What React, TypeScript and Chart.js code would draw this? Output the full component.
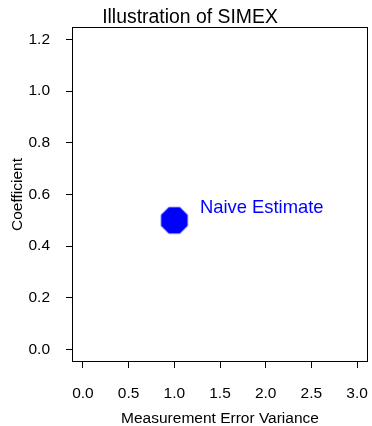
import React, { useEffect, useRef } from 'react';
import { Chart, registerables } from 'chart.js';

Chart.register(...registerables);

const titleText = 'Illustration of SIMEX';
const xAxisTitle = 'Measurement Error Variance';
const yAxisTitle = 'Coefficient';
const xTicks = [0, 0.5, 1, 1.5, 2, 2.5, 3];
const yTicks = [0, 0.2, 0.4, 0.6, 0.8, 1.0, 1.2];
const pointX = [1.0];
const pointY = [0.5];
const noteText = ['Naive Estimate'];
const noteX = [1.28];
const noteY = [0.55];

const FONT = '"Liberation Sans", Arial, Helvetica, sans-serif';

export default function App() {
  const ref = useRef<HTMLCanvasElement>(null);

  useEffect(() => {
    const canvas = ref.current;
    if (!canvas) return;

    const oct = document.createElement('canvas');
    oct.width = 30;
    oct.height = 30;
    const octx = oct.getContext('2d')!;
    octx.fillStyle = '#0000ff';
    octx.beginPath();
    for (let k = 0; k < 8; k++) {
      const a = Math.PI / 8 + (k * Math.PI) / 4;
      const px = 15 + 14.45 * Math.cos(a);
      const py = 15 + 14.45 * Math.sin(a);
      if (k === 0) octx.moveTo(px, py);
      else octx.lineTo(px, py);
    }
    octx.closePath();
    octx.fill();

    const xr = xTicks[xTicks.length - 1] - xTicks[0];
    const yr = yTicks[yTicks.length - 1] - yTicks[0];

    const deco = {
      id: 'deco',
      beforeDatasetsDraw(chart: any) {
        const { ctx, chartArea: a } = chart;
        ctx.save();
        ctx.strokeStyle = '#000';
        ctx.lineWidth = 1;
        const l = Math.round(a.left), t = Math.round(a.top);
        const r = Math.round(a.right), b = Math.round(a.bottom);
        ctx.strokeRect(l + 0.5, t + 0.5, r - l - 1, b - t - 1);
        ctx.restore();
      },
      afterDraw(chart: any) {
        const { ctx, scales } = chart;
        ctx.save();
        ctx.fillStyle = '#000';
        ctx.font = `19.4px ${FONT}`;
        ctx.textAlign = 'center';
        ctx.textBaseline = 'alphabetic';
        ctx.fillText(titleText, 190, 23);
        ctx.fillStyle = '#0000ff';
        ctx.font = `18.4px ${FONT}`;
        ctx.textAlign = 'left';
        ctx.textBaseline = 'middle';
        noteText.forEach((t, i) => {
          ctx.fillText(t, scales.x.getPixelForValue(noteX[i]), scales.y.getPixelForValue(noteY[i]));
        });
        ctx.restore();
      },
    };

    const zeroPad = (s: any) => {
      s.paddingLeft = 0;
      s.paddingRight = 0;
      s.paddingTop = 0;
      s.paddingBottom = 0;
    };

    const chart = new Chart(canvas, {
      type: 'scatter',
      data: {
        datasets: [
          {
            data: pointX.map((x, i) => ({ x, y: pointY[i] })),
            pointStyle: oct as any,
            pointRadius: 14,
            backgroundColor: '#0000ff',
            borderColor: '#0000ff',
          },
        ],
      },
      options: {
        responsive: false,
        animation: false,
        layout: { autoPadding: false, padding: { top: 27, right: 4, left: 0, bottom: 0 } },
        plugins: {
          legend: { display: false },
          tooltip: { enabled: false },
          title: { display: false },
        },
        scales: {
          x: {
            type: 'linear',
            min: xTicks[0] - 0.04 * xr,
            max: xTicks[xTicks.length - 1] + 0.04 * xr,
            afterBuildTicks: (s: any) => {
              s.ticks = xTicks.map((v) => ({ value: v }));
            },
            afterFit: (s: any) => {
              s.height = 64;
              zeroPad(s);
            },
            border: { display: false },
            grid: {
              display: true,
              drawOnChartArea: false,
              drawTicks: true,
              tickLength: 6,
              color: '#000',
              lineWidth: 1,
            },
            ticks: {
              padding: 16,
              color: '#000',
              font: { family: FONT, size: 15.5 },
              maxRotation: 0,
              autoSkip: false,
              callback: (v: any) => Number(v).toFixed(1),
            },
            title: {
              display: true,
              text: xAxisTitle,
              color: '#000',
              font: { family: FONT, size: 15.5, lineHeight: 1 },
              padding: { top: 0, bottom: 0 },
            },
          },
          y: {
            type: 'linear',
            min: yTicks[0] - 0.04 * yr,
            max: yTicks[yTicks.length - 1] + 0.04 * yr,
            afterBuildTicks: (s: any) => {
              s.ticks = yTicks.map((v) => ({ value: v }));
            },
            afterFit: (s: any) => {
              s.width = 72;
              zeroPad(s);
            },
            border: { display: false },
            grid: {
              display: true,
              drawOnChartArea: false,
              drawTicks: true,
              tickLength: 6,
              color: '#000',
              lineWidth: 1,
            },
            ticks: {
              padding: 16,
              color: '#000',
              font: { family: FONT, size: 15.5 },
              autoSkip: false,
              callback: (v: any) => Number(v).toFixed(1),
            },
            title: {
              display: true,
              text: yAxisTitle,
              color: '#000',
              font: { family: FONT, size: 15.5, lineHeight: 1 },
              padding: { top: 10, bottom: 0 },
            },
          },
        },
      },
      plugins: [deco],
    });

    return () => chart.destroy();
  }, []);

  return (
    <div style={{ position: 'fixed', left: 0, top: 0, width: 372, height: 426, background: '#fff' }}>
      <canvas ref={ref} width={372} height={426} style={{ display: 'block', width: 372, height: 426 }} />
    </div>
  );
}
